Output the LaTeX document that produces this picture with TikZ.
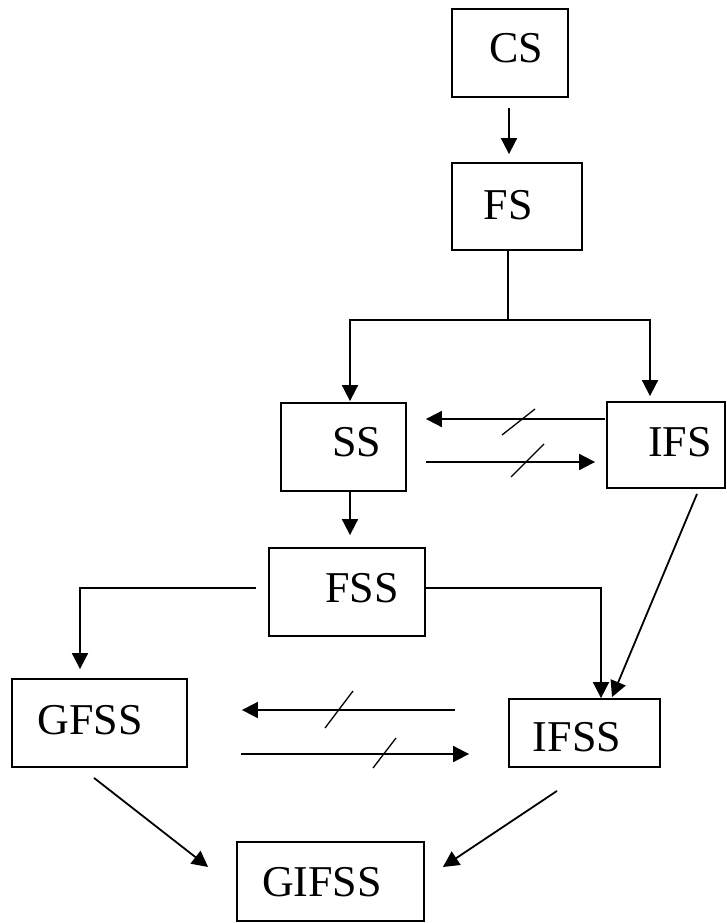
\documentclass[tikz,border=0pt]{standalone}
\usepackage{fontspec}
\setmainfont{Liberation Serif}
\usetikzlibrary{calc,arrows.meta}
\begin{document}
\begin{tikzpicture}[x=1pt,y=-1pt,
  box/.style={draw,line width=1.8pt,rectangle,inner sep=0pt},
  lbl/.style={inner sep=0pt,font=\fontsize{44}{50}\selectfont},
  arr/.style={line width=1.8pt,-{Triangle[length=16pt,width=16pt]}},
  conn/.style={line width=1.8pt},
  slash/.style={line width=1.3pt}]
\useasboundingbox (0,0) rectangle (726,923);
% boxes
\node[box,minimum width=116pt,minimum height=88pt] (CS) at (510,53) {};
\node[box,minimum width=130pt,minimum height=87pt] (FS) at (517,206.5) {};
\node[box,minimum width=125pt,minimum height=88pt] (SS) at (343.5,447) {};
\node[box,minimum width=118pt,minimum height=86pt] (IFS) at (666,445) {};
\node[box,minimum width=156pt,minimum height=88pt] (FSS) at (347,592) {};
\node[box,minimum width=175pt,minimum height=88pt] (GFSS) at (99.5,723) {};
\node[box,minimum width=151pt,minimum height=68pt] (IFSS) at (584.5,733) {};
\node[box,minimum width=187pt,minimum height=79pt] (GIFSS) at (330.5,881.5) {};
% labels
\node[lbl] (CSt) at (516,48) {CS};
\node[lbl] (FSt) at (508,205) {FS};
\node[lbl] (SSt) at (357,442) {SS};
\node[lbl] (IFSt) at (680,442) {IFS};
\node[lbl] (FSSt) at (362,588) {FSS};
\node[lbl] (GFSSt) at (90,720) {GFSS};
\node[lbl] (IFSSt) at (577,737) {IFSS};
\node[lbl] (GIFSSt) at (322,882) {GIFSS};
% connectors
\draw[arr] ($(CS.south)+(-1,10)$) -- ($(FS.north)+(-8,-8)$);
\coordinate (j1) at ($(FS.south)+(-9,69)$);
\draw[conn] ($(FS.south)+(-9,0)$) -- (j1);
\draw[arr] (j1) -| ($(SS.north)+(6.5,-1)$);
\draw[arr] (j1) -| ($(IFS.north)+(-16,-5)$);
\draw[arr] ($(IFS.west)+(-1,-26)$) -- ($(SS.east)+(19,-28)$);
\draw[arr] ($(SS.east)+(19,15)$) -- ($(IFS.west)+(-11,17)$);
\draw[arr] ($(SS.south)+(6.5,0)$) -- ($(FSS.north)+(3,-12)$);
\draw[arr] ($(FSS.west)+(-12,-4)$) -| ($(GFSS.north)+(-19.5,-9)$);
\draw[arr] ($(FSS.east)+(0,-4)$) -| ($(IFSS.north)+(16.5,0)$);
\draw[arr] ($(IFS.south)+(31,5)$) -- ($(IFSS.north)+(27.5,-1)$);
\draw[arr] ($(IFSS.west)+(-53,-23)$) -- ($(GFSS.east)+(54,-13)$);
\draw[arr] ($(GFSS.east)+(53,31)$) -- ($(IFSS.west)+(-39,21)$);
\draw[arr] ($(GFSS.south)+(-5.5,10)$) -- ($(GIFSS.west)+(-28,-14.5)$);
\draw[arr] ($(IFSS.south)+(-27.5,23)$) -- ($(GIFSS.east)+(18,-14.5)$);
% slashes
\draw[slash] (502,435) -- (535,409);
\draw[slash] (511,477) -- (544,444);
\draw[slash] (325,728) -- (353,691);
\draw[slash] (373,768) -- (396,738);
\end{tikzpicture}
\end{document}
